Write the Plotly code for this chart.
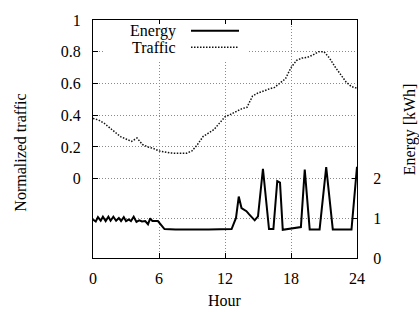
import plotly.graph_objects as go

# ---- data ----
traffic_hours = [0.0, 0.5, 1.0, 1.5, 2.0, 2.5, 3.0, 3.5, 4.0, 4.5, 5.0, 5.5, 6.0, 6.5,
                 7.0, 7.5, 8.0, 8.5, 9.0, 9.5, 10.0, 10.5, 11.0, 11.5, 12.0, 12.5,
                 13.0, 13.5, 14.0, 14.5, 15.0, 15.5, 16.0, 16.5, 17.0, 17.5, 18.0,
                 18.5, 19.0, 19.5, 20.0, 20.5, 21.0, 21.5, 22.0, 22.5, 23.0, 23.5, 24.0]
traffic_norm = [0.38, 0.37, 0.35, 0.32, 0.29, 0.265, 0.25, 0.235, 0.256, 0.215, 0.20,
                0.19, 0.175, 0.168, 0.162, 0.16, 0.158, 0.16, 0.175, 0.215, 0.265,
                0.29, 0.31, 0.35, 0.39, 0.405, 0.425, 0.44, 0.45, 0.52, 0.54, 0.555,
                0.565, 0.575, 0.60, 0.63, 0.70, 0.745, 0.76, 0.765, 0.78, 0.80, 0.80,
                0.76, 0.705, 0.66, 0.61, 0.58, 0.57]

energy_hours = [0.0, 0.25, 0.45, 0.7, 0.9, 1.15, 1.4, 1.6, 1.85, 2.1, 2.35, 2.55, 2.8,
                3.0, 3.25, 3.45, 3.7, 3.95, 4.2, 4.45, 4.75, 5.0, 5.2, 5.4, 5.9, 6.5,
                7.5, 8.3, 9.0, 10.5, 12.6, 13.0, 13.25, 13.5, 13.95, 14.2, 14.7, 15.0,
                15.45, 16.0, 16.4, 16.75, 17.0, 17.25, 17.9, 18.9, 19.25, 19.7, 20.6,
                21.2, 21.8, 23.5, 24.0]
energy_kwh = [0.97, 0.92, 1.03, 0.94, 1.04, 0.93, 1.04, 0.94, 1.04, 0.94, 1.01, 0.93,
              1.03, 0.93, 0.97, 0.93, 1.04, 0.91, 0.95, 0.92, 0.93, 0.85, 1.0, 0.93,
              0.93, 0.73, 0.72, 0.71, 0.72, 0.72, 0.73, 1.01, 1.55, 1.26, 1.18, 1.10,
              0.95, 1.05, 2.25, 0.73, 0.73, 1.94, 1.90, 0.71, 0.73, 0.78, 2.23, 0.72,
              0.72, 2.29, 0.72, 0.72, 2.30]

x_ticks = [0, 6, 12, 18, 24]
traffic_ticks = [0, 0.2, 0.4, 0.6, 0.8, 1]
traffic_ticklabels = ["0", "0.2", "0.4", "0.6", "0.8", "1"]
energy_ticks = [0, 1, 2]

FONT = "Liberation Serif"
GRID = dict(showgrid=True, gridcolor="#8a8a8a", gridwidth=1, griddash="1px,2px")

fig = go.Figure()
fig.add_trace(go.Scatter(x=energy_hours, y=energy_kwh, mode="lines", name="Energy",
                         yaxis="y2", line=dict(color="black", width=2),
                         showlegend=False))
fig.add_trace(go.Scatter(x=traffic_hours, y=traffic_norm, mode="lines", name="Traffic",
                         line=dict(color="#111", width=1.5, dash="1.5px,1.5px"),
                         showlegend=False))

W, H = 419, 312
L, R, T, B = 93, 62, 14, 54
pw, ph = W - L - R, H - T - B


def px(x):
    return (x - L) / pw


def py(y):
    return (H - B - y) / ph


# legend (gnuplot style: text then sample), white box over grid
shapes = [
    dict(type="rect", xref="paper", yref="paper", x0=px(104), x1=px(249),
         y0=py(57), y1=py(18), fillcolor="white", line=dict(width=0), layer="above"),
    dict(type="line", xref="paper", yref="paper", x0=px(191), x1=px(239),
         y0=py(25), y1=py(25), line=dict(color="black", width=2), layer="above"),
    dict(type="line", xref="paper", yref="paper", x0=px(191), x1=px(239),
         y0=py(42), y1=py(42), line=dict(color="#111", width=1.5, dash="1.5px,1.5px"),
         layer="above"),
]
annotations = [
    dict(text="Energy", xref="paper", yref="paper", x=px(178), y=py(25),
         xanchor="right", yanchor="middle", showarrow=False,
         font=dict(family=FONT, size=16, color="black")),
    dict(text="Traffic", xref="paper", yref="paper", x=px(178), y=py(42),
         xanchor="right", yanchor="middle", showarrow=False,
         font=dict(family=FONT, size=16, color="black")),
    dict(text="Normalized traffic", xref="paper", yref="paper", x=px(21), y=py(150),
         xanchor="center", yanchor="middle", textangle=-90, showarrow=False,
         font=dict(family=FONT, size=16, color="black")),
    dict(text="Energy [kWh]", xref="paper", yref="paper", x=px(410), y=py(126),
         xanchor="center", yanchor="middle", textangle=-90, showarrow=False,
         font=dict(family=FONT, size=16, color="black")),
    dict(text="Hour", xref="paper", yref="paper", x=px(225), y=py(302),
         xanchor="center", yanchor="middle", showarrow=False,
         font=dict(family=FONT, size=16, color="black")),
]

fig.update_layout(
    width=W, height=H,
    margin=dict(l=L, r=R, t=T, b=B, pad=0),
    paper_bgcolor="white", plot_bgcolor="white",
    font=dict(family=FONT, size=16, color="black"),
    showlegend=False,
    xaxis=dict(range=[0, 24], tickvals=x_ticks, ticks="inside", ticklen=5,
               tickcolor="black", showline=True, linecolor="black", linewidth=1,
               mirror="ticks", zeroline=False, ticklabelstandoff=6, **GRID),
    yaxis=dict(range=[-0.5, 1], tickvals=traffic_ticks, ticktext=traffic_ticklabels,
               ticks="inside", ticklen=5, tickcolor="black", showline=True,
               linecolor="black", linewidth=1, mirror=True, zeroline=False,
               ticklabelstandoff=8, **GRID),
    yaxis2=dict(range=[0, 6], tickvals=energy_ticks, overlaying="y", side="right",
                ticks="inside", ticklen=5, tickcolor="black", showline=True,
                linecolor="black", linewidth=1, zeroline=False,
                ticklabelstandoff=12, **GRID),
    shapes=shapes,
    annotations=annotations,
)

fig.write_html("out.html", config={"displayModeBar": False},
               post_script="document.body.style.margin='0';document.body.style.overflow='hidden';")
